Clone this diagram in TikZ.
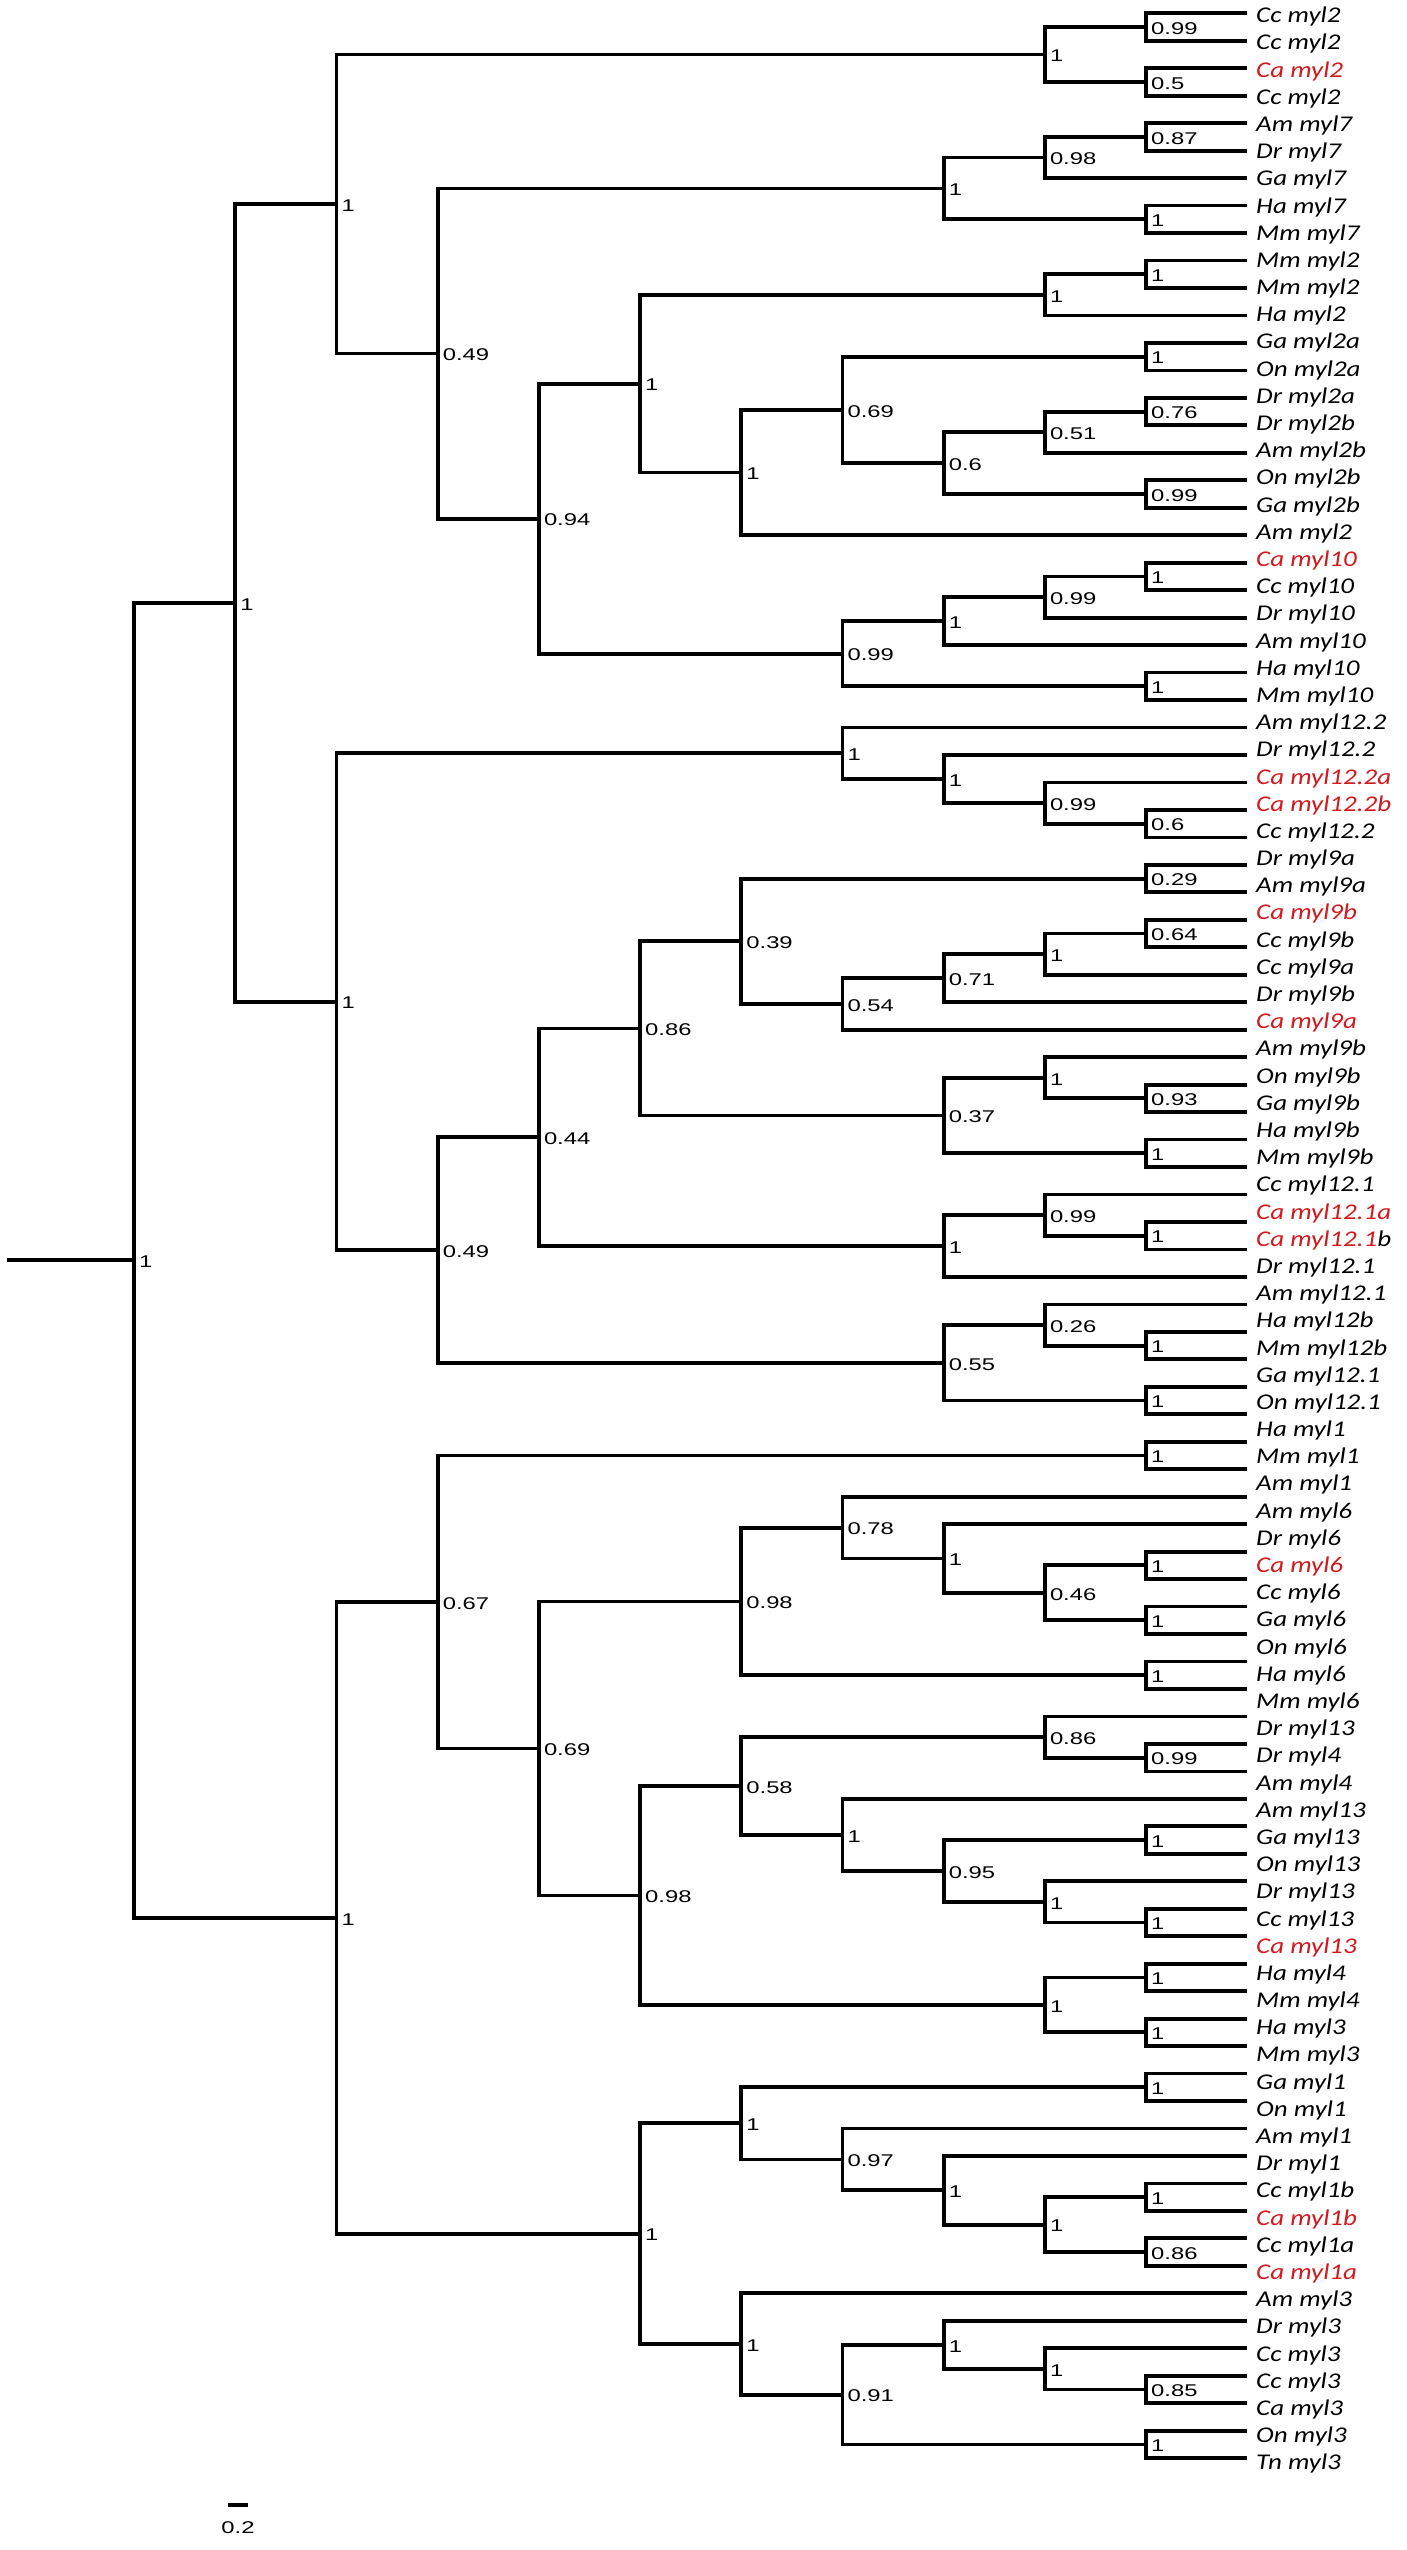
\documentclass[tikz,border=0pt]{standalone}
\usepackage{fontspec}
\usetikzlibrary{calc}
\newfontfamily\leaffont{Carlito}[FakeStretch=1.2]
\newfontfamily\supfont{Liberation Sans}[FakeStretch=1.4]
\definecolor{tipred}{RGB}{210,25,30}
\newcommand\rd[1]{\textcolor{tipred}{#1}}
\tikzset{
  br/.style={line width=3.8pt, line join=miter},
  sup/.style={anchor=west, inner sep=0pt, xshift=5pt, yshift=-1.4pt, font=\supfont\fontsize{17}{17}\selectfont},
  leaf/.style={anchor=base west, inner sep=0pt, font=\leaffont\itshape\fontsize{22.5}{22.5}\selectfont}
}
% clade: name, column, child1, child2, support
\newcommand\mkclade[5]{%
  \path let \p1=(#3), \p2=(#4) in coordinate (#1) at ({(134+#2*101.2)*1pt},{0.5*(\y1+\y2)});
  \draw[br] (#3) -| (#1);
  \draw[br] (#4) -| (#1);
  \node[sup] (s-#1) at (#1) {#5};
}
\begin{document}
\begin{tikzpicture}[x=1pt,y=-1pt]
\fill[white] (0,0) rectangle (1406,2550);
\useasboundingbox (0,0) rectangle (1406,2550);
% tips
\foreach \j in {1,...,90} \coordinate (L\j) at (1247.2,{13.3+(\j-1)*27.47});
% upper clade
\mkclade{a1}{10}{L1}{L2}{0.99}
\mkclade{a2}{10}{L3}{L4}{0.5}
\mkclade{a3}{9}{a1}{a2}{1}
\mkclade{a4}{10}{L5}{L6}{0.87}
\mkclade{a5}{9}{a4}{L7}{0.98}
\mkclade{a6}{10}{L8}{L9}{1}
\mkclade{a7}{8}{a5}{a6}{1}
\mkclade{a8}{10}{L10}{L11}{1}
\mkclade{a9}{9}{a8}{L12}{1}
\mkclade{a10}{10}{L13}{L14}{1}
\mkclade{a11}{10}{L15}{L16}{0.76}
\mkclade{a12}{9}{a11}{L17}{0.51}
\mkclade{a13}{10}{L18}{L19}{0.99}
\mkclade{a14}{8}{a12}{a13}{0.6}
\mkclade{a15}{7}{a10}{a14}{0.69}
\mkclade{a16}{6}{a15}{L20}{1}
\mkclade{a17}{5}{a9}{a16}{1}
\mkclade{a18}{10}{L21}{L22}{1}
\mkclade{a19}{9}{a18}{L23}{0.99}
\mkclade{a20}{8}{a19}{L24}{1}
\mkclade{a21}{10}{L25}{L26}{1}
\mkclade{a22}{7}{a20}{a21}{0.99}
\mkclade{a23}{4}{a17}{a22}{0.94}
\mkclade{a24}{3}{a7}{a23}{0.49}
\mkclade{a25}{2}{a3}{a24}{1}
% myl12 / myl9 clade
\mkclade{b1}{10}{L30}{L31}{0.6}
\mkclade{b2}{9}{L29}{b1}{0.99}
\mkclade{b3}{8}{L28}{b2}{1}
\mkclade{b4}{7}{L27}{b3}{1}
\mkclade{b5}{10}{L32}{L33}{0.29}
\mkclade{b6}{10}{L34}{L35}{0.64}
\mkclade{b7}{9}{b6}{L36}{1}
\mkclade{b8}{8}{b7}{L37}{0.71}
\mkclade{b9}{7}{b8}{L38}{0.54}
\mkclade{b10}{6}{b5}{b9}{0.39}
\mkclade{b11}{10}{L40}{L41}{0.93}
\mkclade{b12}{9}{L39}{b11}{1}
\mkclade{b13}{10}{L42}{L43}{1}
\mkclade{b14}{8}{b12}{b13}{0.37}
\mkclade{b15}{5}{b10}{b14}{0.86}
\mkclade{b16}{10}{L45}{L46}{1}
\mkclade{b17}{9}{L44}{b16}{0.99}
\mkclade{b18}{8}{b17}{L47}{1}
\mkclade{b19}{4}{b15}{b18}{0.44}
\mkclade{b20}{10}{L49}{L50}{1}
\mkclade{b21}{9}{L48}{b20}{0.26}
\mkclade{b22}{10}{L51}{L52}{1}
\mkclade{b23}{8}{b21}{b22}{0.55}
\mkclade{b24}{3}{b19}{b23}{0.49}
\mkclade{b25}{2}{b4}{b24}{1}
\mkclade{A}{1}{a25}{b25}{1}
% lower clade
\mkclade{c1}{10}{L53}{L54}{1}
\mkclade{c2}{10}{L57}{L58}{1}
\mkclade{c3}{10}{L59}{L60}{1}
\mkclade{c4}{9}{c2}{c3}{0.46}
\mkclade{c5}{8}{L56}{c4}{1}
\mkclade{c6}{7}{L55}{c5}{0.78}
\mkclade{c7}{10}{L61}{L62}{1}
\mkclade{c8}{6}{c6}{c7}{0.98}
\mkclade{c9}{10}{L64}{L65}{0.99}
\mkclade{c10}{9}{L63}{c9}{0.86}
\mkclade{c11}{10}{L67}{L68}{1}
\mkclade{c12}{10}{L70}{L71}{1}
\mkclade{c13}{9}{L69}{c12}{1}
\mkclade{c14}{8}{c11}{c13}{0.95}
\mkclade{c15}{7}{L66}{c14}{1}
\mkclade{c16}{6}{c10}{c15}{0.58}
\mkclade{c17}{10}{L72}{L73}{1}
\mkclade{c18}{10}{L74}{L75}{1}
\mkclade{c19}{9}{c17}{c18}{1}
\mkclade{c20}{5}{c16}{c19}{0.98}
\mkclade{c21}{4}{c8}{c20}{0.69}
\mkclade{c22}{3}{c1}{c21}{0.67}
\mkclade{c23}{10}{L76}{L77}{1}
\mkclade{c24}{10}{L80}{L81}{1}
\mkclade{c25}{10}{L82}{L83}{0.86}
\mkclade{c26}{9}{c24}{c25}{1}
\mkclade{c27}{8}{L79}{c26}{1}
\mkclade{c28}{7}{L78}{c27}{0.97}
\mkclade{c29}{6}{c23}{c28}{1}
\mkclade{c30}{10}{L87}{L88}{0.85}
\mkclade{c31}{9}{L86}{c30}{1}
\mkclade{c32}{8}{L85}{c31}{1}
\mkclade{c33}{10}{L89}{L90}{1}
\mkclade{c34}{7}{c32}{c33}{0.91}
\mkclade{c35}{6}{L84}{c34}{1}
\mkclade{c36}{5}{c29}{c35}{1}
\mkclade{B}{2}{c22}{c36}{1}
\mkclade{root}{0}{A}{B}{1}
% root stub
\coordinate (stub) at (root -| 7,0);
\draw[br] (stub) -- (root);
% leaf labels
\foreach \t [count=\i] in {Cc myl2, Cc myl2, \rd{Ca myl2}, Cc myl2, Am myl7, Dr myl7, Ga myl7, Ha myl7, Mm myl7, Mm myl2, Mm myl2, Ha myl2, Ga myl2a, On myl2a, Dr myl2a, Dr myl2b, Am myl2b, On myl2b, Ga myl2b, Am myl2, \rd{Ca myl10}, Cc myl10, Dr myl10, Am myl10, Ha myl10, Mm myl10, Am myl12.2, Dr myl12.2, \rd{Ca myl12.2a}, \rd{Ca myl12.2b}, Cc myl12.2, Dr myl9a, Am myl9a, \rd{Ca myl9b}, Cc myl9b, Cc myl9a, Dr myl9b, \rd{Ca myl9a}, Am myl9b, On myl9b, Ga myl9b, Ha myl9b, Mm myl9b, Cc myl12.1, \rd{Ca myl12.1a}, \rd{Ca myl12.1}b, Dr myl12.1, Am myl12.1, Ha myl12b, Mm myl12b, Ga myl12.1, On myl12.1, Ha myl1, Mm myl1, Am myl1, Am myl6, Dr myl6, \rd{Ca myl6}, Cc myl6, Ga myl6, On myl6, Ha myl6, Mm myl6, Dr myl13, Dr myl4, Am myl4, Am myl13, Ga myl13, On myl13, Dr myl13, Cc myl13, \rd{Ca myl13}, Ha myl4, Mm myl4, Ha myl3, Mm myl3, Ga myl1, On myl1, Am myl1, Dr myl1, Cc myl1b, \rd{Ca myl1b}, Cc myl1a, \rd{Ca myl1a}, Am myl3, Dr myl3, Cc myl3, Cc myl3, Ca myl3, On myl3, Tn myl3}
  \node[leaf] (t\i) at (1256,{22.7+(\i-1)*27.19}) {\t};
% scale bar
\coordinate (sb1) at (228,2505);
\coordinate (sb2) at (248,2505);
\draw[line width=3.8pt] (sb1) -- (sb2);
\node[inner sep=0pt, font=\supfont\fontsize{17}{17}\selectfont] (sbl) at (238,2528) {0.2};
\end{tikzpicture}
\end{document}
